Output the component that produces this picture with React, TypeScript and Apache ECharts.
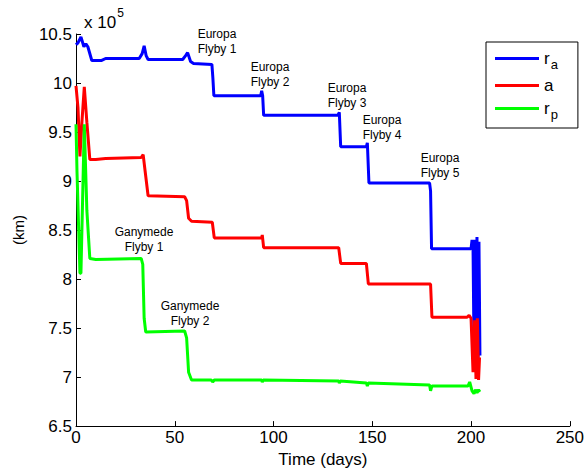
import React, { useEffect, useRef } from "react";
import * as echarts from "echarts";

// Time (days) and values (x 10^5 km)
const raDays = [0, 1, 2.5, 4, 5, 6, 8, 13, 15, 32, 33.5, 34.5, 35.5, 36.5, 54, 55.5, 56.5, 58, 59.5, 68.8, 69.3, 69.8, 93.5, 94, 94.5, 95, 132.5, 133.3, 134, 147, 147.5, 148.3, 179, 179.5, 180, 200, 200.5, 201, 201.5, 202, 202.5, 203, 203.5, 204, 204.5];
const raValues = [10.39, 10.41, 10.47, 10.37, 10.4, 10.37, 10.23, 10.23, 10.25, 10.25, 10.3, 10.38, 10.28, 10.24, 10.24, 10.28, 10.31, 10.22, 10.2, 10.19, 10.05, 9.87, 9.87, 9.92, 9.87, 9.67, 9.67, 9.7, 9.35, 9.35, 9.39, 8.98, 8.98, 8.9, 8.31, 8.31, 8.4, 8.33, 7.3, 8.4, 7.5, 8.43, 7.1, 8.38, 7.22];

const aDays = [0, 1, 2, 3, 4.2, 5.5, 7, 10, 15, 33, 34, 35, 36.5, 55, 56, 57, 58.5, 69, 70, 94, 94.3, 95, 133, 134, 147, 148, 179.5, 180.2, 198, 199, 200, 201, 201.8, 202.5, 203.2, 203.8, 204.3];
const aValues = [9.97, 9.75, 9.25, 9.6, 9.96, 9.6, 9.22, 9.22, 9.23, 9.24, 9.27, 9.1, 8.85, 8.84, 8.8, 8.62, 8.59, 8.58, 8.42, 8.42, 8.45, 8.32, 8.32, 8.16, 8.16, 7.95, 7.95, 7.61, 7.61, 7.63, 7.6, 7.05, 7.58, 6.98, 7.6, 6.97, 7.2];

const rpDays = [0, 0.5, 2, 2.5, 4.2, 5.5, 7, 10, 33, 33.8, 34.5, 35.3, 55, 56, 57, 58.5, 68.5, 69.2, 70, 94, 94.3, 94.8, 133, 133.3, 133.8, 147, 147.5, 148, 179, 179.5, 180.2, 198.5, 199.3, 200.5, 201.5, 202.2, 203, 203.8, 204.5];
const rpValues = [9.58, 9.1, 8.06, 8.06, 9.58, 8.7, 8.21, 8.2, 8.21, 8.15, 7.6, 7.46, 7.47, 7.4, 7.05, 6.97, 6.97, 6.95, 6.97, 6.97, 6.95, 6.97, 6.96, 6.94, 6.96, 6.94, 6.91, 6.94, 6.92, 6.86, 6.91, 6.91, 6.95, 6.86, 6.83, 6.87, 6.84, 6.87, 6.85];

const seriesNames = ["r_a", "a", "r_p"];
const seriesColors = ["#0000ff", "#ff0000", "#00ff00"];

const annotations = [
  { text: "Europa\nFlyby 1", x: 217, y: 41 },
  { text: "Europa\nFlyby 2", x: 270, y: 74 },
  { text: "Europa\nFlyby 3", x: 347, y: 95 },
  { text: "Europa\nFlyby 4", x: 382, y: 127 },
  { text: "Europa\nFlyby 5", x: 440, y: 165 },
  { text: "Ganymede\nFlyby 1", x: 144, y: 239 },
  { text: "Ganymede\nFlyby 2", x: 190, y: 313 },
];

const zip = (xs: number[], ys: number[]) => xs.map((x, i) => [x, ys[i]]);

export default function App() {
  const ref = useRef<HTMLDivElement>(null);
  useEffect(() => {
    if (!ref.current) return;
    const chart = echarts.init(ref.current, null, { renderer: "svg" });
    const font = "'Liberation Sans', Arial, Helvetica, sans-serif";
    const data = [zip(raDays, raValues), zip(aDays, aValues), zip(rpDays, rpValues)];
    chart.setOption({
      animation: false,
      backgroundColor: "#ffffff",
      textStyle: { fontFamily: font },
      grid: { left: 76, right: 16, top: 34, bottom: 44, containLabel: false },
      xAxis: {
        type: "value",
        min: 0,
        max: 250,
        interval: 50,
        name: "Time (days)",
        nameLocation: "middle",
        nameGap: 23,
        nameTextStyle: { fontSize: 17, color: "#000", fontFamily: font },
        axisLine: { lineStyle: { color: "#000", width: 1 } },
        axisTick: { inside: true, length: 5, lineStyle: { color: "#000" } },
        axisLabel: { fontSize: 17, color: "#000", margin: 3, fontFamily: font },
        splitLine: { show: false },
      },
      yAxis: {
        type: "value",
        min: 6.5,
        max: 10.5,
        interval: 0.5,
        name: "(km)",
        nameLocation: "middle",
        nameRotate: 90,
        nameGap: 50,
        nameTextStyle: { fontSize: 15, color: "#000", fontFamily: font },
        axisLine: { show: true, lineStyle: { color: "#000", width: 1 } },
        axisTick: { show: true, inside: true, length: 5, lineStyle: { color: "#000" } },
        axisLabel: { fontSize: 17, color: "#000", margin: 4, fontFamily: font },
        splitLine: { show: false },
      },
      legend: {
        orient: "vertical",
        left: 486,
        top: 42,
        width: 77,
        padding: [8, 20, 7, 9],
        itemGap: 6,
        icon: "rect",
        itemWidth: 44,
        itemHeight: 3,
        borderColor: "#000",
        borderWidth: 1,
        backgroundColor: "#fff",
        data: seriesNames,
        formatter: (name: string) =>
          name === "r_a" ? "{m|r}{s|a}" : name === "r_p" ? "{m|r}{s|p}" : "{m|a}",
        textStyle: {
          color: "#000",
          fontFamily: font,
          rich: {
            m: { fontSize: 17, color: "#000", fontFamily: font, height: 18 },
            s: { fontSize: 13, color: "#000", fontFamily: font, padding: [12, 0, 0, 1] },
          },
        },
      },
      graphic: [
        {
          type: "text",
          left: 84,
          top: 7,
          style: {
            text: "{a|x 10}{b|5}",
            rich: {
              a: { fontSize: 17, fill: "#000", fontFamily: font, padding: [9, 0, 0, 0] },
              b: { fontSize: 12, fill: "#000", fontFamily: font, padding: [0, 0, 9, 1] },
            },
          },
        },
        ...annotations.map((a) => ({
          type: "text",
          x: a.x,
          y: a.y,
          style: {
            text: a.text,
            fontSize: 12,
            fontFamily: font,
            fill: "#000",
            align: "center",
            verticalAlign: "middle",
            lineHeight: 15,
          },
        })),
      ],
      series: seriesNames.map((n, i) => ({
        name: n,
        type: "line",
        data: data[i],
        showSymbol: false,
        symbol: "none",
        lineStyle: { color: seriesColors[i], width: 3 },
        itemStyle: { color: seriesColors[i] },
        z: 2 + i,
      })),
    });
    return () => chart.dispose();
  }, []);
  return <div ref={ref} style={{ width: 587, height: 473, position: "absolute", left: 0, top: 0 }} />;
}
